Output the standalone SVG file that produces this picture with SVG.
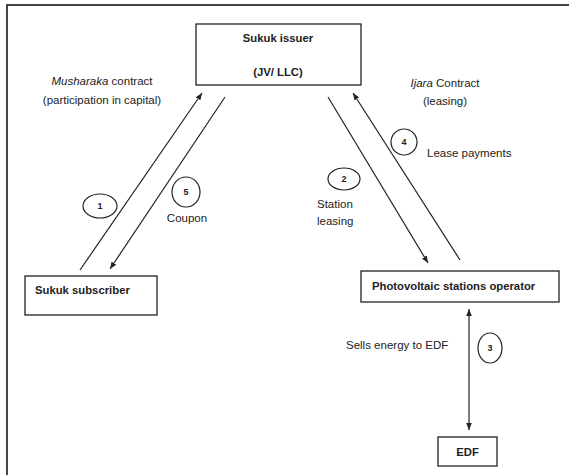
<svg xmlns="http://www.w3.org/2000/svg" width="569" height="475" viewBox="0 0 569 475">
<style>
  .box{fill:#fff;stroke:#222;stroke-width:1.3}
  .t{font-family:"Liberation Sans",Arial,sans-serif;font-size:11.5px;fill:#222}
  .b{font-weight:bold;font-size:11.3px}
  .n{font-family:"Liberation Sans",Arial,sans-serif;font-size:9px;font-weight:bold;fill:#222;text-anchor:middle}
  .c{fill:none;stroke:#222;stroke-width:1.2}
  .ln{stroke:#222;stroke-width:1.2;fill:none}
</style>
<defs>
  <marker id="ah" viewBox="0 0 10 10" refX="10" refY="5" markerWidth="7" markerHeight="7" markerUnits="userSpaceOnUse" orient="auto-start-reverse">
    <path d="M0,1 L10,5 L0,9 Z" fill="#222"/>
  </marker>
</defs>
<rect x="0" y="0" width="569" height="475" fill="#fff"/>
<path d="M7,475 V5 H569" fill="none" stroke="#444" stroke-width="2"/>

<g id="connectors">
  <line class="ln" x1="80" y1="270" x2="202" y2="93" marker-end="url(#ah)"/>
  <line class="ln" x1="225" y1="97" x2="110" y2="269" marker-end="url(#ah)"/>
  <line class="ln" x1="328" y1="97" x2="428" y2="263" marker-end="url(#ah)"/>
  <line class="ln" x1="460" y1="260" x2="353" y2="93" marker-end="url(#ah)"/>
  <line class="ln" x1="469" y1="309" x2="469" y2="430" marker-start="url(#ah)" marker-end="url(#ah)"/>
</g>

<g id="labels">
  <text class="t" x="102" y="85" text-anchor="middle"><tspan font-style="italic">Musharaka</tspan> contract</text>
  <text class="t" x="102" y="104" text-anchor="middle">(participation in capital)</text>
  <text class="t" x="445" y="87" text-anchor="middle"><tspan font-style="italic">Ijara</tspan> Contract</text>
  <text class="t" x="445" y="105" text-anchor="middle">(leasing)</text>
  <text class="t" x="427" y="157">Lease payments</text>
  <text class="t" x="317" y="208">Station</text>
  <text class="t" x="317" y="225">leasing</text>
  <text class="t" x="187" y="222" text-anchor="middle">Coupon</text>
  <text class="t" x="346" y="349">Sells energy to EDF</text>
</g>

<g id="step1"><ellipse class="c" cx="100" cy="206" rx="17" ry="12"/><text class="n" x="100" y="209">1</text></g>
<g id="step2"><ellipse class="c" cx="344" cy="179" rx="16" ry="11"/><text class="n" x="344" y="182">2</text></g>
<g id="step3"><ellipse class="c" cx="490" cy="348" rx="12" ry="15"/><text class="n" x="490" y="351">3</text></g>
<g id="step4"><ellipse class="c" cx="404" cy="142" rx="13" ry="13"/><text class="n" x="404" y="145">4</text></g>
<g id="step5"><ellipse class="c" cx="186" cy="192" rx="14" ry="15"/><text class="n" x="186" y="195">5</text></g>

<g id="sukuk-issuer">
  <rect class="box" x="196" y="24" width="165" height="61"/>
  <text class="t b" x="278" y="42" text-anchor="middle">Sukuk issuer</text>
  <text class="t b" x="278" y="76" text-anchor="middle">(JV/ LLC)</text>
</g>
<g id="sukuk-subscriber">
  <rect class="box" x="25" y="276" width="132" height="39"/>
  <text class="t b" x="35" y="294">Sukuk subscriber</text>
</g>
<g id="pv-operator">
  <rect class="box" x="361" y="271" width="198" height="31"/>
  <text class="t b" x="372" y="290">Photovoltaic stations operator</text>
</g>
<g id="edf">
  <rect class="box" x="438" y="437" width="59" height="29"/>
  <text class="t b" x="467.5" y="456" text-anchor="middle">EDF</text>
</g>
</svg>
